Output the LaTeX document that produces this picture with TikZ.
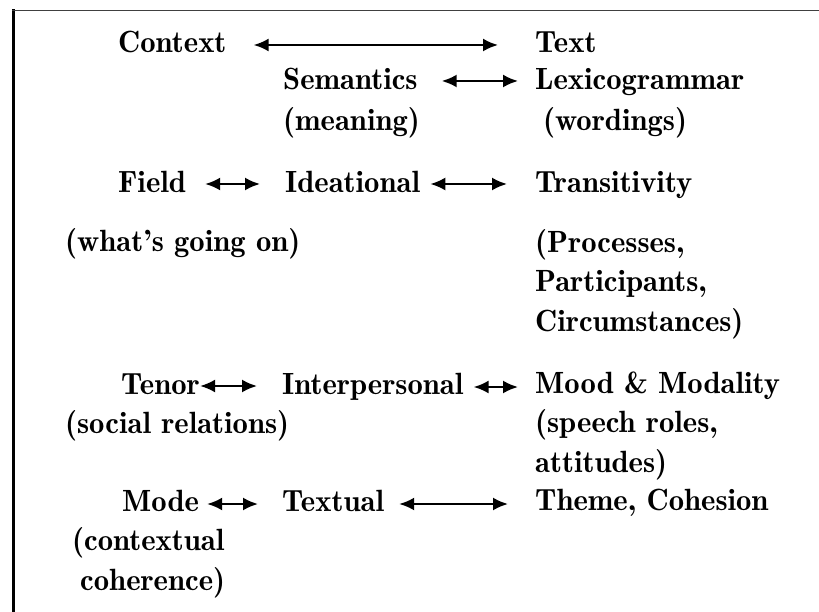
\documentclass[tikz,border=0pt]{standalone}
\usepackage{fontspec}
\usetikzlibrary{arrows.meta}
\newfontfamily\demi{lmromandemi10-regular}[Extension=.otf]
\tikzset{
  lbl/.style={anchor=base west, inner sep=0pt, font=\demi\fontsize{30.7}{36}\selectfont},
  dbl/.style={{Latex[length=15pt,width=13pt]}-{Latex[length=15pt,width=13pt]}, line width=2.2pt},
}
\begin{document}
\begin{tikzpicture}[x=1pt,y=-1pt]
\useasboundingbox (0,0) rectangle (819,612);
\fill[white] (0,0) rectangle (819,612);
\draw[line width=3pt] (13.5,612) -- (13.5,9.5);
\draw[line width=1.8pt, black!75] (12,10.5) -- (819,10.5);

\node[lbl] (context) at (118,53) {Context};
\node[lbl] (text) at (535,53) {Text};
\node[lbl] (sem) at (283,90) {Semantics};
\node[lbl] (lex) at (535,90) {Lexicogrammar};
\node[lbl] (meaning) at (283,131) {(meaning)};
\node[lbl] (wordings) at (543,131) {(wordings)};
\node[lbl] (field) at (118,193) {Field};
\node[lbl] (ideat) at (285,193) {Ideational};
\node[lbl] (trans) at (535,193) {Transitivity};
\node[lbl] (going) at (65,252) {(what’s going on)};
\node[lbl] (proc) at (535,253) {(Processes,};
\node[lbl] (part) at (535,292) {Participants,};
\node[lbl] (circ) at (535,331) {Circumstances)};
\node[lbl] (tenor) at (121,394) {Tenor};
\node[lbl] (inter) at (282,394) {Interpersonal};
\node[lbl] (mood) at (535,393) {Mood \& Modality};
\node[lbl] (social) at (65,433) {(social relations)};
\node[lbl] (speech) at (535,432) {(speech roles,};
\node[lbl] (att) at (535,472) {attitudes)};
\node[lbl] (mode) at (122,511) {Mode};
\node[lbl] (textual) at (282,511) {Textual};
\node[lbl] (theme) at (535,510) {Theme, Cohesion};
\node[lbl] (contextual) at (72,550) {(contextual};
\node[lbl] (coher) at (80,590) {coherence)};

\draw[dbl] ([xshift=27pt,yshift=8pt]context.base east) -- ([xshift=-37pt,yshift=8pt]text.base west);
\draw[dbl] ([xshift=24pt,yshift=9pt]sem.base east) -- ([xshift=-17pt,yshift=9pt]lex.base west);
\draw[dbl] ([xshift=19pt,yshift=9pt]field.base east) -- ([xshift=-25pt,yshift=9pt]ideat.base west);
\draw[dbl] ([xshift=10pt,yshift=9pt]ideat.base east) -- ([xshift=-28pt,yshift=9pt]trans.base west);
\draw[dbl] ([xshift=0pt,yshift=8pt]tenor.base east) -- ([xshift=-25pt,yshift=8pt]inter.base west);
\draw[dbl] ([xshift=10pt,yshift=7pt]inter.base east) -- ([xshift=-17pt,yshift=6pt]mood.base west);
\draw[dbl] ([xshift=8pt,yshift=7pt]mode.base east) -- ([xshift=-24pt,yshift=7pt]textual.base west);
\draw[dbl] ([xshift=15pt,yshift=7pt]textual.base east) -- ([xshift=-27pt,yshift=6pt]theme.base west);
\end{tikzpicture}
\end{document}
